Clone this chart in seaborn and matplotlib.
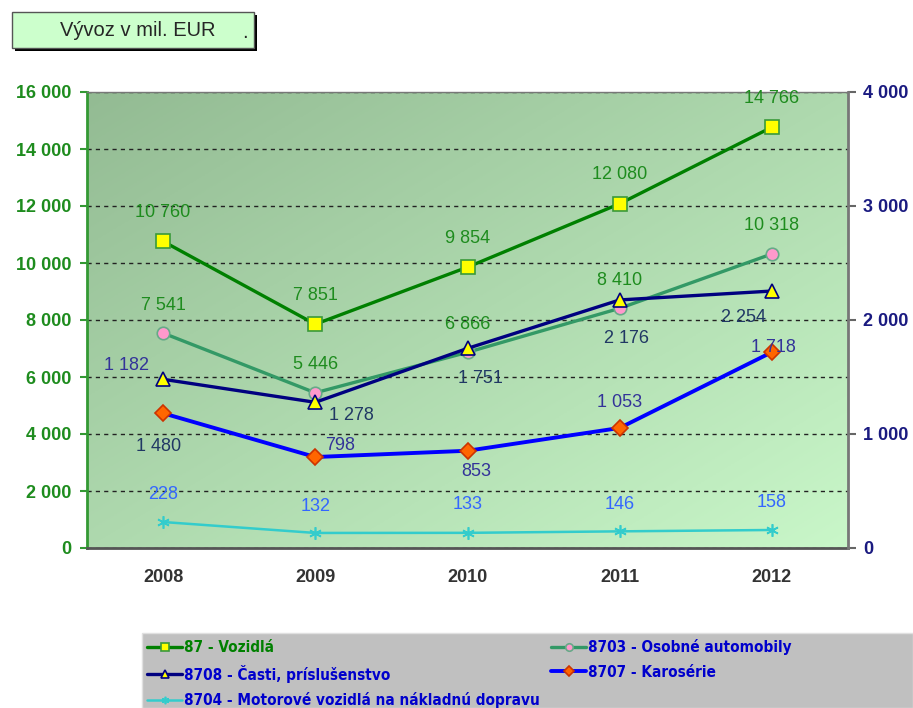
import numpy as np
import matplotlib
matplotlib.use("Agg")
import matplotlib.pyplot as plt
from matplotlib.patches import Rectangle
from matplotlib.ticker import FixedLocator
import seaborn as sns

# Data (mil. EUR)
years = ["2008", "2009", "2010", "2011", "2012"]
vozidla = [10760, 7851, 9854, 12080, 14766]      # 87 - left axis
osobne = [7541, 5446, 6866, 8410, 10318]         # 8703 - left axis
casti = [1480, 1278, 1751, 2176, 2254]           # 8708 - right axis
karoserie = [1182, 798, 853, 1053, 1718]         # 8707 - right axis
motorove = [228, 132, 133, 146, 158]             # 8704 - right axis

left_ticks = [0, 2000, 4000, 6000, 8000, 10000, 12000, 14000, 16000]
right_ticks = [0, 1000, 2000, 3000, 4000]


def fmt(v):
    return f"{v:,}".replace(",", " ")


sns.set_style("white")
plt.rcParams["font.family"] = ["Liberation Sans", "DejaVu Sans"]

W, H = 913, 708
fig = plt.figure(figsize=(W / 100, H / 100), dpi=100)
ax = fig.add_axes([87 / W, 1 - 548 / H, (848 - 87) / W, (548 - 92) / H])
ax2 = ax.twinx()

# gradient plot background
xx, yy = np.meshgrid(np.linspace(0, 1, 200), np.linspace(0, 1, 200))
t = (xx + yy) / 2
c0 = np.array([0x93, 0xbb, 0x93]) / 255
c1 = np.array([0xc9, 0xf7, 0xc9]) / 255
img = c0 + (c1 - c0) * t[..., None]
ax.imshow(img, extent=[0, 1, 0, 1], transform=ax.transAxes, aspect="auto", zorder=0)

x = np.arange(len(years))

# series: (name, values, axis, line color, lw, marker, ms, face, edge, label color, label offsets px)
series = [
    ("87 - Vozidlá", vozidla, ax, "#008000", 2.4, "s", 10, "#ffff00", "#3a9a3a", "#1e8c1e",
     [(0, 29)] * 5),
    ("8703 - Osobné automobily", osobne, ax, "#339966", 2.4, "o", 9, "#ff99cc", "#66aa88", "#1e8c1e",
     [(0, 28)] * 5),
    ("8708 - Časti, príslušenstvo", casti, ax2, "#000080", 2.4, "^", 10, "#ffff00", "#000080", "#203864",
     [(-5, -67), (36, -13), (13, -30), (7, -39), (-28, -26)]),
    ("8707 - Karosérie", karoserie, ax2, "#0000ff", 2.8, "D", 8, "#ff6600", "#cc3300", "#333399",
     [(-37, 48), (25, 12), (9, -21), (0, 25), (2, 5)]),
    ("8704 - Motorové vozidlá na nákladnú dopravu", motorove, ax2, "#33cccc", 1.8, (6, 2, 0), 9,
     "#33cccc", "#33cccc", "#3366ff",
     [(0, 28), (0, 26), (0, 28), (0, 27), (0, 27)]),
]

handles = {}
for name, vals, a, col, lw, mk, ms, mfc, mec, lcol, offs in series:
    sns.lineplot(x=x, y=vals, ax=a, color=col, lw=lw, marker=mk, ms=ms,
                 mfc=mfc, mec=mec, mew=1.2, legend=False, zorder=3)
    handles[name] = a.get_lines()[-1]
    for xi, v, (dx, dy) in zip(x, vals, offs):
        a.annotate(fmt(v), (xi, v), xytext=(dx, dy), textcoords="offset pixels",
                   ha="center", va="center", fontsize=13, color=lcol, zorder=4)

# axes setup
ax.set_xlim(-0.5, len(years) - 0.5)
ax.set_ylim(0, 16000)
ax2.set_ylim(0, 4000)
ax.set_xticks(x)
ax.set_xticklabels(years, fontsize=13, fontweight="bold", color="#333333")
ax.xaxis.set_minor_locator(FixedLocator(np.arange(-0.5, len(years), 1)))
ax.tick_params(axis="x", which="major", length=0, pad=15)
ax.tick_params(axis="x", which="minor", length=8, width=1.5, color="#555555", direction="out")

ax.set_yticks(left_ticks)
ax.set_yticklabels([fmt(v) for v in left_ticks], fontsize=13, fontweight="bold", color="#1e8c1e")
ax.tick_params(axis="y", length=5, width=1.5, color="#339933", pad=6, direction="out")
ax2.set_yticks(right_ticks)
ax2.set_yticklabels([fmt(v) for v in right_ticks], fontsize=13, fontweight="bold", color="#1a1a80")
ax2.tick_params(axis="y", length=6, width=1.5, color="#666666", pad=5, direction="out")

ax.yaxis.grid(True, linestyle=(0, (3, 3)), color="#222222", lw=1)
ax.xaxis.grid(False)
ax2.grid(False)
ax.set_axisbelow(True)

for s in ax.spines.values():
    s.set_visible(False)
for s in ax2.spines.values():
    s.set_visible(False)
ax.spines["left"].set_visible(True)
ax.spines["left"].set_color("#339933")
ax.spines["left"].set_linewidth(2)
ax.spines["bottom"].set_visible(True)
ax.spines["bottom"].set_color("#555555")
ax.spines["bottom"].set_linewidth(2)
ax.spines["top"].set_visible(True)
ax.spines["top"].set_color("#777777")
ax.spines["top"].set_linewidth(1)
ax2.spines["right"].set_visible(True)
ax2.spines["right"].set_color("#777777")
ax2.spines["right"].set_linewidth(2)

# title box with shadow
bx0, by0, bw, bh = 12, 12, 242, 36
fig.patches.append(Rectangle(((bx0 + 3) / W, 1 - (by0 + bh + 3) / H), bw / W, bh / H,
                             transform=fig.transFigure, facecolor="black", edgecolor="none"))
fig.patches.append(Rectangle((bx0 / W, 1 - (by0 + bh) / H), bw / W, bh / H,
                             transform=fig.transFigure, facecolor="#ccffcc",
                             edgecolor="#555555", lw=1))
fig.text(60 / W, 1 - 30 / H, "Vývoz v mil. EUR", fontsize=14.5, va="center", ha="left")
fig.text(245 / W, 1 - 33 / H, ".", fontsize=14.5, va="center", ha="center")

# legend box
fig.patches.append(Rectangle((142 / W, 0), (W - 142) / W, (H - 633) / H,
                             transform=fig.transFigure, facecolor="#c0c0c0",
                             edgecolor="#e0e0e0", lw=1))
order = ["87 - Vozidlá", "8708 - Časti, príslušenstvo",
         "8704 - Motorové vozidlá na nákladnú dopravu",
         "8703 - Osobné automobily", "8707 - Karosérie"]
text_colors = ["#008000", "#0000cc", "#0000cc", "#0000cc", "#0000cc"]
leg = fig.legend([handles[n] for n in order], order, loc="upper left",
                 bbox_to_anchor=(144 / W, 1 - 636 / H), ncol=2, frameon=False,
                 prop={"family": "DejaVu Sans", "stretch": "condensed", "weight": "bold", "size": 11},
                 handlelength=2.3, handletextpad=0.15, columnspacing=0.7,
                 labelspacing=0.62, markerscale=0.6, borderaxespad=0, borderpad=0.2)
for txt, c in zip(leg.get_texts(), text_colors):
    txt.set_color(c)

fig.savefig("out.png", dpi=100)
